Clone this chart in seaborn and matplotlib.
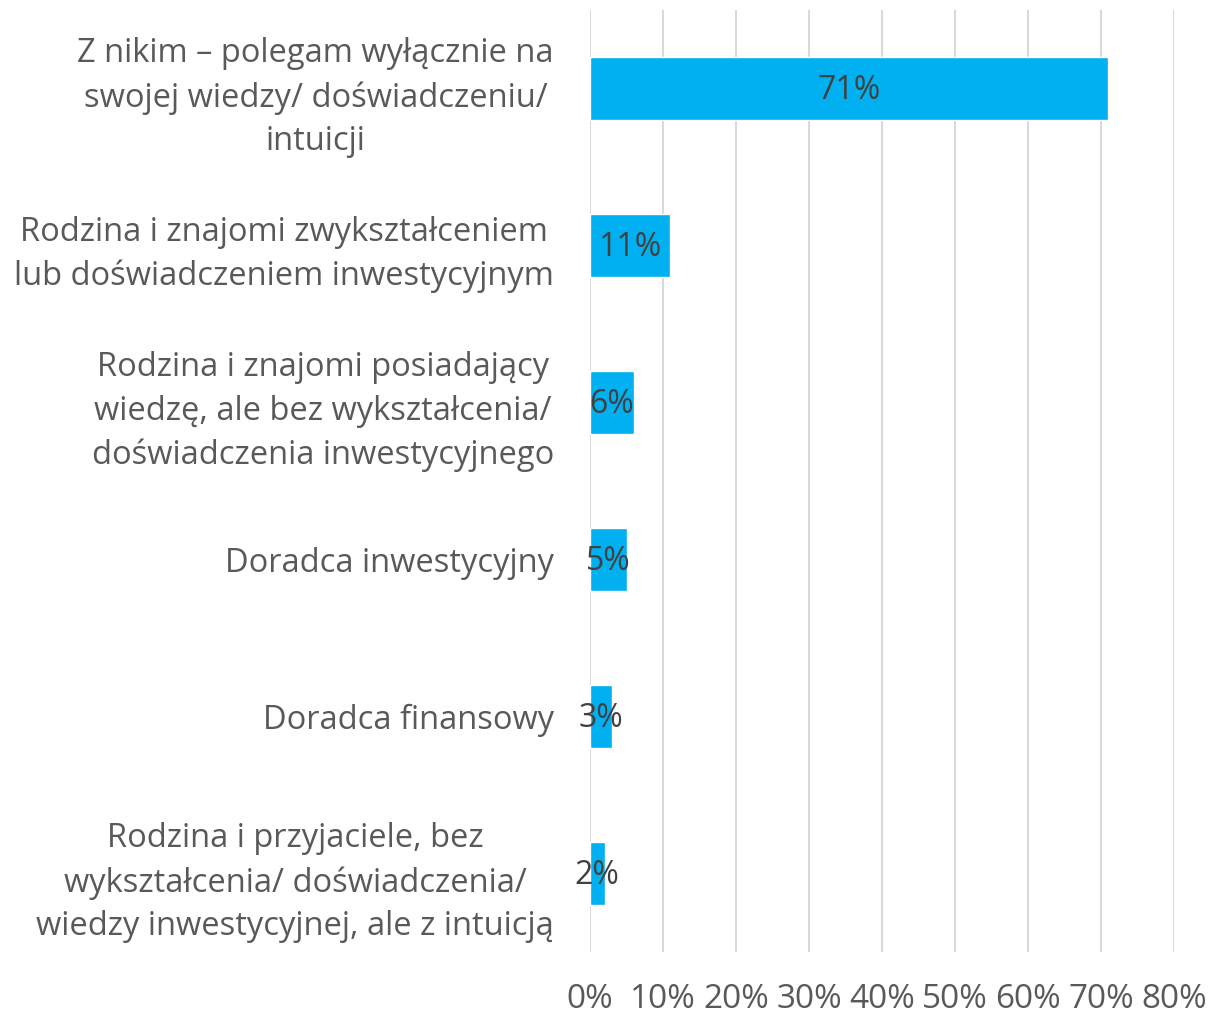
import numpy as np
import pandas as pd
import matplotlib
matplotlib.use("Agg")
import matplotlib.pyplot as plt
import seaborn as sns

categories = [
    "Z nikim – polegam wyłącznie na\nswojej wiedzy/ doświadczeniu/\nintuicji",
    "Rodzina i znajomi zwykształceniem\nlub doświadczeniem inwestycyjnym",
    "Rodzina i znajomi posiadający\nwiedzę, ale bez wykształcenia/\ndoświadczenia inwestycyjnego",
    "Doradca inwestycyjny",
    "Doradca finansowy",
    "Rodzina i przyjaciele, bez\nwykształcenia/ doświadczenia/\nwiedzy inwestycyjnej, ale z intuicją",
]
values = [71, 11, 6, 5, 3, 2]
x_ticks = [0, 10, 20, 30, 40, 50, 60, 70, 80]

BAR_COLOR = "#00B0F0"
GRID_COLOR = "#D9D9D9"
TEXT_COLOR = "#595959"
LABEL_COLOR = "#404040"
CAT_SIZE = 23.5
TICK_SIZE = 24
VALUE_SIZE = 23

sns.set_theme(style="white")
plt.rcParams["font.family"] = ["Open Sans", "DejaVu Sans"]

df = pd.DataFrame({"category": categories, "value": values})

fig = plt.figure(figsize=(12.12, 10.14), dpi=100)
ax = fig.add_axes([590 / 1212, 62 / 1014, 584 / 1212, 942 / 1014])

sns.barplot(data=df, x="value", y="category", orient="h", color=BAR_COLOR,
            width=0.4, saturation=1, ax=ax, zorder=3)

# data labels in bar centers
for i, v in enumerate(values):
    ax.text(v / 2, i + 0.01, f"{v}%", ha="center", va="center",
            fontsize=VALUE_SIZE, color=LABEL_COLOR, zorder=4)

ax.set_xlim(0, 80)
ax.set_ylim(len(categories) - 0.5, -0.5)
ax.set_xticks(x_ticks)
ax.set_xticklabels([f"{t}%" for t in x_ticks], fontsize=TICK_SIZE, color=TEXT_COLOR)
ax.tick_params(axis="x", length=0, pad=22)
ax.tick_params(axis="y", length=0, pad=26, labelsize=CAT_SIZE, labelcolor=TEXT_COLOR)
for lbl in ax.get_yticklabels():
    lbl.set_multialignment("center")
    lbl.set_linespacing(1.42)

ax.grid(axis="x", color=GRID_COLOR, linewidth=1.5, zorder=0)
ax.grid(axis="y", visible=False)
for s in ax.spines.values():
    s.set_visible(False)
ax.set_xlabel("")
ax.set_ylabel("")

fig.savefig("out.png", dpi=100)
